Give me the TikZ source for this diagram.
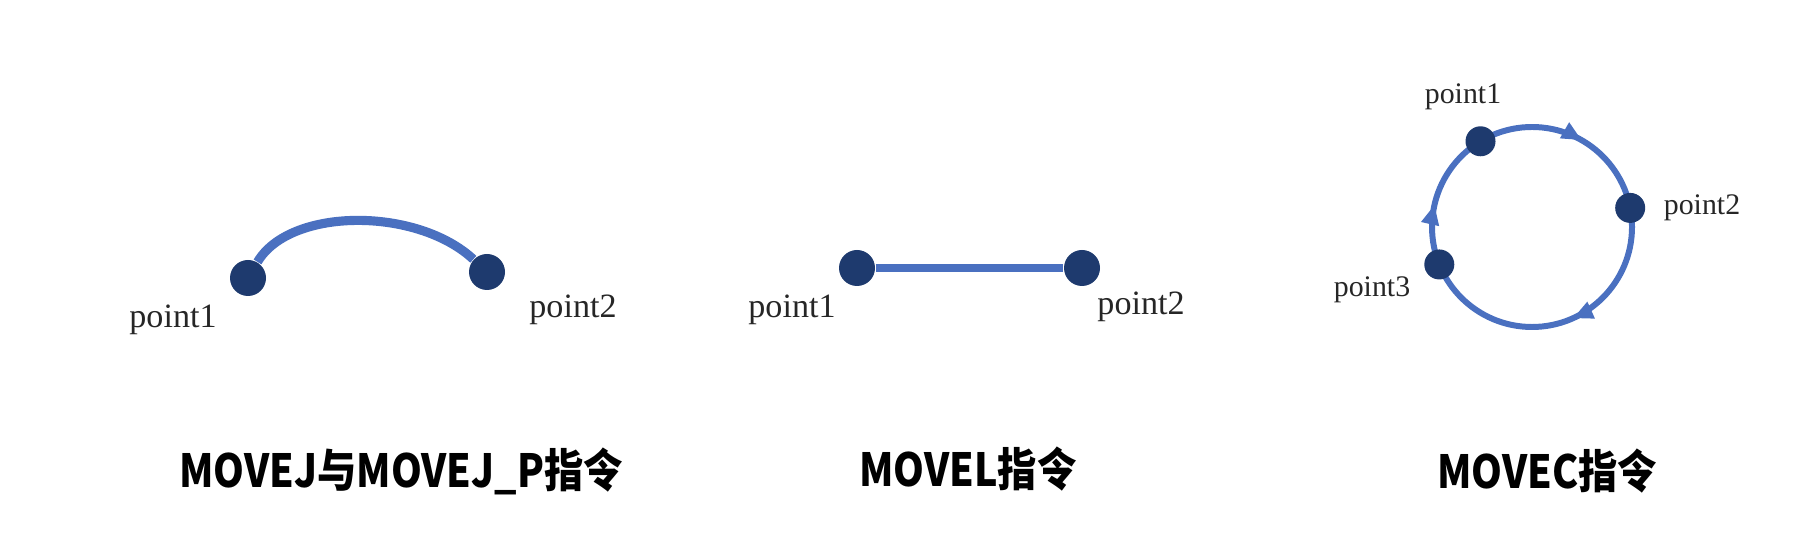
\documentclass[tikz,border=0pt]{standalone}
\usepackage{fontspec}
\setmainfont{Liberation Serif}
\newfontfamily\cjk{Noto Sans CJK SC}
\usepackage{tikz}
\usetikzlibrary{positioning,arrows.meta,decorations.markings,calc}

\definecolor{pathblue}{HTML}{4A70C0}
\definecolor{dotnavy}{HTML}{1E3A6E}

\tikzset{
  waypoint/.style={circle, fill=dotnavy, inner sep=0pt, minimum size=0.36cm},
  smallpoint/.style={circle, fill=dotnavy, inner sep=0pt, minimum size=0.30cm},
  ptlabel/.style={font=\fontsize{9.7pt}{10pt}\selectfont, text=black!85, inner sep=0pt},
  smalllabel/.style={font=\fontsize{8.5pt}{9pt}\selectfont, text=black!85, inner sep=0pt},
  caption/.style={font=\cjk\bfseries\fontsize{13pt}{14pt}\selectfont, xscale=0.86, inner sep=0pt},
  motion/.style={draw=pathblue, line width=2.3pt},
  dirtip/.style={postaction={decorate}, decoration={markings,
      mark=at position 0.183 with {\arrow{Triangle[length=0.2cm,width=0.17cm]}},
      mark=at position 0.536 with {\arrow{Triangle[length=0.2cm,width=0.17cm]}},
      mark=at position 0.833 with {\arrow{Triangle[length=0.2cm,width=0.17cm]}}}}
}

\begin{document}
\begin{tikzpicture}
  \useasboundingbox (0,0) rectangle (18.02,5.40);
  \def\r{1.0} % radius of the MOVEC circle
  % MOVEJ: joint move along a curve
  \node[waypoint] (j1) at (2.48,2.62) {};
  \node[waypoint] (j2) at (4.87,2.68) {};
  \draw[motion, line width=2.6pt] (j1) .. controls (2.90,3.33) and (4.17,3.33) .. (j2);
  \node[ptlabel] (j1lbl) at (1.73,2.20) {point1};
  \node[ptlabel] (j2lbl) at (5.73,2.30) {point2};
  % MOVEL: straight line
  \node[waypoint] (l1) at (8.57,2.72) {};
  \node[waypoint] (l2) at (10.82,2.72) {};
  \draw[motion, line width=2.1pt] (l1) -- (l2);
  \node[ptlabel] (l1lbl) at (7.92,2.30) {point1};
  \node[ptlabel] (l2lbl) at (11.41,2.33) {point2};
  % MOVEC: circle through three points, clockwise
  \coordinate (c) at (15.32,3.13);
  \draw[draw=pathblue, line width=1.7pt, dirtip]
    ($(c)+(0:\r)$) arc[start angle=0, end angle=-360, radius=\r];
  \foreach \name/\ang in {c1/121, c2/11, c3/202} {
    \node[smallpoint] (\name) at ($(c)+(\ang:\r)$) {};
  }
  \node[smalllabel] (c1lbl) at (14.63,4.43) {point1};
  \node[smalllabel] (c2lbl) at (17.02,3.32) {point2};
  \node[smalllabel] (c3lbl) at (13.72,2.50) {point3};
  % captions
  \node[caption] (capj) at (4.01,0.69) {MOVEJ与MOVEJ\_P指令};
  \node[caption] (capl) at (9.68,0.71) {MOVEL指令};
  \node[caption] (capc) at (15.47,0.69) {MOVEC指令};
\end{tikzpicture}
\end{document}
